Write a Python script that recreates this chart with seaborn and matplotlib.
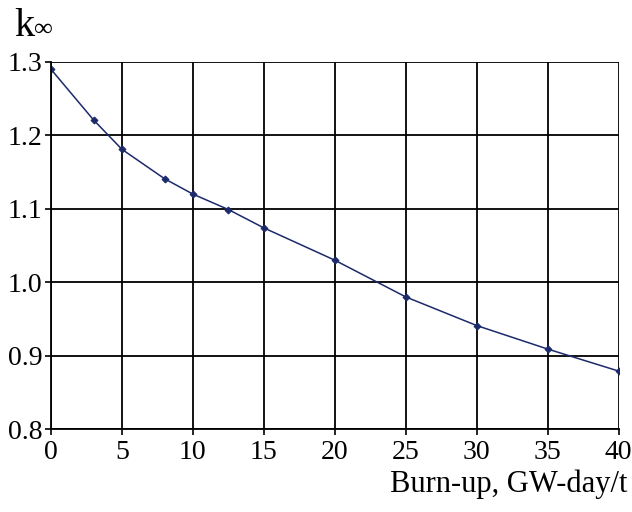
import matplotlib
matplotlib.use("Agg")
import matplotlib.pyplot as plt
import pandas as pd
import seaborn as sns

# Burn-up (GW-day/t) and infinite multiplication factor
burnup = [0, 3, 5, 8, 10, 12.5, 15, 20, 25, 30, 35, 40]
k_inf = [1.29, 1.221, 1.181, 1.141, 1.12, 1.099, 1.074, 1.030, 0.980, 0.941, 0.909, 0.879]
x_ticks = [0, 5, 10, 15, 20, 25, 30, 35, 40]
y_ticks = [0.8, 0.9, 1.0, 1.1, 1.2, 1.3]

df = pd.DataFrame({"burnup": burnup, "k": k_inf})

sns.set_theme(style="whitegrid")
plt.rcParams["font.family"] = ["Liberation Serif", "DejaVu Serif"]
serif = ["Liberation Serif", "DejaVu Serif"]

fig = plt.figure(figsize=(6.32, 5.12), dpi=100)
ax = fig.add_axes([0.0807, 0.162, 0.898, 0.717])

sns.lineplot(data=df, x="burnup", y="k", ax=ax, color="#1c2a6b",
             linewidth=1.1, marker="D", markersize=3.5,
             markeredgecolor="#1c2a6b", markerfacecolor="#1c2a6b")

ax.set_xlim(0, 40)
ax.set_ylim(0.8, 1.3)
ax.set_xticks(x_ticks)
ax.set_yticks(y_ticks)
ax.set_xticklabels([str(t) for t in x_ticks])
ax.set_yticklabels([f"{t:.1f}" for t in y_ticks])
ax.set_xlabel("")
ax.set_ylabel("")

ax.set_facecolor("white")
ax.grid(True, color="black", linewidth=1.3)
for side in ["top", "right"]:
    ax.spines[side].set_visible(False)
for side in ["left", "bottom"]:
    ax.spines[side].set_visible(True)
    ax.spines[side].set_color("black")
    ax.spines[side].set_linewidth(1.3)
ax.tick_params(axis="both", which="major", length=4, width=1.2, color="black",
               labelsize=20, labelcolor="black", pad=2, direction="out")
ax.tick_params(axis="x", bottom=True, pad=4)
ax.tick_params(axis="y", left=True)

# y-axis title "k∞" above the axis, x-axis title below right
fig.text(0.022, 0.93, "k", fontsize=29, ha="left", va="baseline",
         color="black", family=serif)
fig.text(0.054, 0.93, "\u221e", fontsize=19, ha="left", va="baseline",
         color="black", family=serif)
fig.text(0.993, 0.04, "Burn-up, GW-day/t", fontsize=22, ha="right", va="baseline",
         color="black", family=serif)

fig.savefig("out.png", dpi=100, facecolor="white")
